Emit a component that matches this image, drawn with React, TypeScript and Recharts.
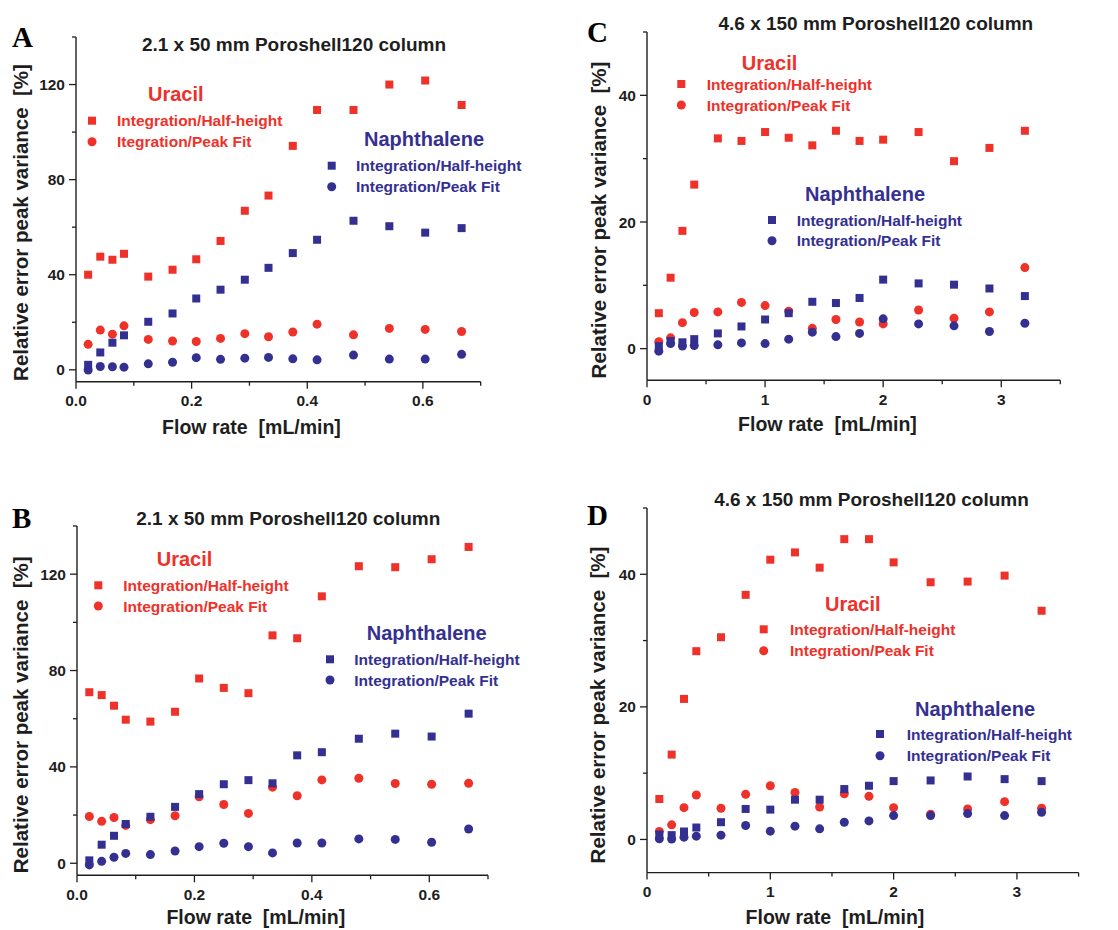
import React from 'react';
import { ScatterChart, Scatter, XAxis, YAxis } from 'recharts';

// ---------- Data ----------
const flowAB = [0.021, 0.042, 0.063, 0.083, 0.125, 0.167, 0.208, 0.25, 0.292, 0.333, 0.375, 0.417, 0.48, 0.542, 0.604, 0.667];
const flowCD = [0.1, 0.2, 0.3, 0.4, 0.6, 0.8, 1.0, 1.2, 1.4, 1.6, 1.8, 2.0, 2.3, 2.6, 2.9, 3.2];

// Panel A (2.1 x 50 mm)
const uracilHH_A = [40.0, 47.6, 46.3, 48.8, 39.2, 42.1, 46.5, 54.2, 66.9, 73.3, 94.2, 109.3, 109.3, 120.0, 121.7, 111.4];
const uracilPF_A = [10.7, 16.7, 15.0, 18.5, 12.8, 12.1, 11.9, 13.2, 15.2, 13.9, 15.9, 19.2, 14.7, 17.4, 17.0, 16.1];
const naphHH_A = [2.1, 7.3, 11.4, 14.5, 20.2, 23.7, 30.0, 33.7, 37.9, 42.9, 49.1, 54.7, 62.7, 60.4, 57.7, 59.6];
const naphPF_A = [-0.1, 1.4, 1.3, 1.1, 2.5, 3.2, 5.1, 4.4, 4.9, 5.2, 4.6, 4.2, 6.2, 4.5, 4.5, 6.5];

// Panel B (2.1 x 50 mm)
const uracilHH_B = [71.0, 69.8, 65.4, 59.6, 58.8, 62.9, 76.7, 72.8, 70.6, 94.6, 93.4, 110.8, 123.3, 122.9, 126.2, 131.3];
const uracilPF_B = [19.4, 17.4, 19.0, 15.7, 18.1, 19.7, 27.6, 24.4, 20.7, 31.6, 28.0, 34.6, 35.3, 33.1, 32.8, 33.2];
const naphHH_B = [1.2, 7.7, 11.4, 16.3, 19.3, 23.4, 28.7, 32.8, 34.5, 33.2, 44.8, 46.1, 51.7, 53.8, 52.6, 62.1];
const naphPF_B = [-0.7, 0.8, 2.5, 4.1, 3.6, 5.1, 6.9, 8.3, 6.9, 4.3, 8.4, 8.4, 10.1, 9.9, 8.7, 14.2];

// Panel C (4.6 x 150 mm)
const uracilHH_C = [5.6, 11.2, 18.6, 25.9, 33.2, 32.8, 34.2, 33.3, 32.1, 34.4, 32.8, 33.0, 34.2, 29.6, 31.7, 34.4];
const uracilPF_C = [1.1, 1.7, 4.1, 5.7, 5.8, 7.3, 6.8, 5.9, 3.2, 4.6, 4.2, 3.9, 6.1, 4.8, 5.8, 12.8];
const naphHH_C = [0.4, 1.2, 1.0, 1.5, 2.4, 3.5, 4.6, 5.6, 7.4, 7.2, 8.0, 10.9, 10.3, 10.1, 9.5, 8.3];
const naphPF_C = [-0.4, 0.8, 0.4, 0.5, 0.6, 0.9, 0.8, 1.5, 2.6, 1.9, 2.4, 4.7, 3.9, 3.6, 2.7, 4.0];

// Panel D (4.6 x 150 mm)
const uracilHH_D = [6.1, 12.8, 21.2, 28.4, 30.5, 36.9, 42.2, 43.3, 41.0, 45.3, 45.3, 41.8, 38.8, 38.9, 39.8, 34.5];
const uracilPF_D = [1.2, 2.2, 4.8, 6.7, 4.7, 6.8, 8.1, 7.1, 4.9, 6.9, 6.5, 4.8, 3.8, 4.6, 5.7, 4.7];
const naphHH_D = [0.75, 0.65, 1.2, 1.8, 2.6, 4.6, 4.5, 6.0, 6.0, 7.6, 8.1, 8.8, 8.9, 9.5, 9.1, 8.8];
const naphPF_D = [0.1, 0.05, 0.35, 0.5, 0.65, 2.1, 1.25, 2.0, 1.6, 2.6, 2.8, 3.6, 3.6, 3.9, 3.6, 4.1];

// Ticks
const xTicksAB = [0, 0.1, 0.2, 0.3, 0.4, 0.5, 0.6, 0.7];
const xMajorAB = [0, 0.2, 0.4, 0.6];
const yTicksAB = [0, 20, 40, 60, 80, 100, 120, 140];
const yMajorAB = [0, 40, 80, 120];
const xTicksCD = [0, 0.5, 1, 1.5, 2, 2.5, 3, 3.5];
const xMajorCD = [0, 1, 2, 3];
const yTicksCD = [0, 10, 20, 30, 40, 50];
const yMajorCD = [0, 20, 40];

// Text
const titleAB = '2.1 x 50 mm Poroshell120 column';
const titleCD = '4.6 x 150 mm Poroshell120 column';
const yLabel = 'Relative error peak variance  [%]';
const xLabel = 'Flow rate  [mL/min]';
const uracilName = 'Uracil';
const naphName = 'Naphthalene';
const hhLabel = 'Integration/Half-height';
const pfLabel = 'Integration/Peak Fit';
const pfLabelTypo = 'Itegration/Peak Fit';

// ---------- Styles ----------
const RED = '#EE3129';
const BLUE = '#343092';
const INK = '#1e1e1e';
const SANS = '"Liberation Sans", Arial, Helvetica, sans-serif';
const SERIF = '"Liberation Serif", "Times New Roman", serif';

const toPts = (xs: number[], ys: number[]) => xs.map((x, i) => ({ x, y: ys[i] }));

const SquareShape = (color: string) => (props: any) => {
  const { cx, cy } = props;
  if (cx == null || cy == null) return <g />;
  return <rect x={cx - 4} y={cy - 4} width={8} height={8} fill={color} />;
};
const CircleShape = (color: string) => (props: any) => {
  const { cx, cy } = props;
  if (cx == null || cy == null) return <g />;
  return <circle cx={cx} cy={cy} r={4.5} fill={color} />;
};

const makeXTick = (major: number[], fmt: (v: number) => string) => (props: any) => {
  const { x, y, payload } = props;
  const v = payload.value;
  const isMajor = major.some((m) => Math.abs(m - v) < 1e-9);
  return (
    <g>
      <line x1={x} x2={x} y1={y} y2={y + (isMajor ? 7 : 4)} stroke={INK} strokeWidth={1.3} />
      {isMajor && (
        <text x={x} y={y + 24.5} textAnchor="middle" fontFamily={SANS} fontWeight="bold" fontSize={15.5} fill={INK}>
          {fmt(v)}
        </text>
      )}
    </g>
  );
};

const makeYTick = (major: number[]) => (props: any) => {
  const { x, y, payload } = props;
  const v = payload.value;
  const isMajor = major.some((m) => Math.abs(m - v) < 1e-9);
  return (
    <g>
      <line x1={x - (isMajor ? 7 : 4)} x2={x} y1={y} y2={y} stroke={INK} strokeWidth={1.3} />
      {isMajor && (
        <text x={x - 11} y={y + 5.6} textAnchor="end" fontFamily={SANS} fontWeight="bold" fontSize={15.5} fill={INK}>
          {String(v)}
        </text>
      )}
    </g>
  );
};

type PanelCfg = {
  left: number; right: number; top: number; bottom: number;
  flow: number[];
  uHH: number[]; uPF: number[]; nHH: number[]; nPF: number[];
  xDomain: [number, number]; yDomain: [number, number];
  xTicks: number[]; xMajor: number[]; yTicks: number[]; yMajor: number[];
  xFmt: (v: number) => string;
};

function Panel({ cfg }: { cfg: PanelCfg }) {
  const YW = 60, XH = 40, MT = 10, MR = 12;
  const width = cfg.right - cfg.left + YW + MR;
  const height = cfg.bottom - cfg.top + MT + XH;
  return (
    <div style={{ position: 'absolute', left: cfg.left - YW, top: cfg.top - MT, width, height }}>
      <ScatterChart width={width} height={height} margin={{ top: MT, right: MR, left: 0, bottom: 0 }}>
        <XAxis
          type="number" dataKey="x" domain={cfg.xDomain} ticks={cfg.xTicks} interval={0}
          tickSize={0} tickMargin={0} height={XH} allowDataOverflow
          axisLine={{ stroke: INK, strokeWidth: 1.4 }} tickLine={false}
          tick={makeXTick(cfg.xMajor, cfg.xFmt)}
        />
        <YAxis
          type="number" dataKey="y" domain={cfg.yDomain} ticks={cfg.yTicks} interval={0}
          tickSize={0} tickMargin={0} width={YW} allowDataOverflow
          axisLine={{ stroke: INK, strokeWidth: 1.4 }} tickLine={false}
          tick={makeYTick(cfg.yMajor)}
        />
        <Scatter data={toPts(cfg.flow, cfg.uHH)} shape={SquareShape(RED)} isAnimationActive={false} />
        <Scatter data={toPts(cfg.flow, cfg.uPF)} shape={CircleShape(RED)} isAnimationActive={false} />
        <Scatter data={toPts(cfg.flow, cfg.nHH)} shape={SquareShape(BLUE)} isAnimationActive={false} />
        <Scatter data={toPts(cfg.flow, cfg.nPF)} shape={CircleShape(BLUE)} isAnimationActive={false} />
      </ScatterChart>
    </div>
  );
}

const fmtAB = (v: number) => v.toFixed(1);
const fmtCD = (v: number) => String(v);

const panels: PanelCfg[] = [
  { left: 76, right: 480.7, top: 37, bottom: 381.7, flow: flowAB, uHH: uracilHH_A, uPF: uracilPF_A, nHH: naphHH_A, nPF: naphPF_A,
    xDomain: [0, 0.7], yDomain: [-5, 140], xTicks: xTicksAB, xMajor: xMajorAB, yTicks: yTicksAB, yMajor: yMajorAB, xFmt: fmtAB },
  { left: 76.7, right: 487.7, top: 525.7, bottom: 875, flow: flowAB, uHH: uracilHH_B, uPF: uracilPF_B, nHH: naphHH_B, nPF: naphPF_B,
    xDomain: [0, 0.7], yDomain: [-5, 140], xTicks: xTicksAB, xMajor: xMajorAB, yTicks: yTicksAB, yMajor: yMajorAB, xFmt: fmtAB },
  { left: 646.7, right: 1060, top: 31.7, bottom: 380, flow: flowCD, uHH: uracilHH_C, uPF: uracilPF_C, nHH: naphHH_C, nPF: naphPF_C,
    xDomain: [0, 3.5], yDomain: [-5, 50], xTicks: xTicksCD, xMajor: xMajorCD, yTicks: yTicksCD, yMajor: yMajorCD, xFmt: fmtCD },
  { left: 646.7, right: 1078.3, top: 507.7, bottom: 872.3, flow: flowCD, uHH: uracilHH_D, uPF: uracilPF_D, nHH: naphHH_D, nPF: naphPF_D,
    xDomain: [0, 3.5], yDomain: [-5, 50], xTicks: xTicksCD, xMajor: xMajorCD, yTicks: yTicksCD, yMajor: yMajorCD, xFmt: fmtCD },
];

type Annot = {
  letter: string; lx: number; ly: number;
  title: string; tx: number; ty: number;
  ylx: number; yly: number; xlx: number; xly: number;
  ux: number; uy: number; uSqX: number; uSqY: number; uTx: number; uCiY: number; pf: string;
  nx: number; ny: number; nSqX: number; nSqY: number; nTx: number; nCiY: number;
};

const annots: Annot[] = [
  { letter: 'A', lx: 12, ly: 46.7, title: titleAB, tx: 294, ty: 51, ylx: 27.7, yly: 222.5, xlx: 251.5, xly: 434,
    ux: 148, uy: 101, uSqX: 92, uSqY: 120.7, uTx: 117, uCiY: 141.7, pf: pfLabelTypo,
    nx: 364, ny: 146, nSqX: 331.7, nSqY: 165.7, nTx: 356, nCiY: 186.7 },
  { letter: 'B', lx: 12, ly: 528, title: titleAB, tx: 288.3, ty: 524.5, ylx: 28, yly: 714.8, xlx: 255.8, xly: 924,
    ux: 156.7, uy: 566, uSqX: 98.3, uSqY: 585.3, uTx: 123.3, uCiY: 606, pf: pfLabel,
    nx: 366.7, ny: 639.5, nSqX: 330, nSqY: 659.3, nTx: 354.3, nCiY: 680 },
  { letter: 'C', lx: 587, ly: 42, title: titleCD, tx: 875.8, ty: 29.8, ylx: 606.4, yly: 220, xlx: 827.5, xly: 430.7,
    ux: 741.7, uy: 69.5, uSqX: 681.3, uSqY: 84, uTx: 706.7, uCiY: 105, pf: pfLabel,
    nx: 805, ny: 201, nSqX: 772, nSqY: 220, nTx: 796.7, nCiY: 240.7 },
  { letter: 'D', lx: 587, ly: 525, title: titleCD, tx: 871.5, ty: 506, ylx: 604.7, yly: 705, xlx: 835, xly: 924,
    ux: 825, uy: 611, uSqX: 763.7, uSqY: 629.3, uTx: 790, uCiY: 650.7, pf: pfLabel,
    nx: 915, ny: 716, nSqX: 880, nSqY: 734, nTx: 906.7, nCiY: 755.7 },
];

function Annotations() {
  const lab = { fontFamily: SANS, fontWeight: 'bold' as const, style: { whiteSpace: 'pre' as const } };
  return (
    <svg width={1118} height={930} style={{ position: 'absolute', left: 0, top: 0, pointerEvents: 'none' }}>
      {annots.map((a) => (
        <g key={a.letter}>
          <text x={a.lx} y={a.ly} fontFamily={SERIF} fontWeight="bold" fontSize={29} fill="#000">{a.letter}</text>
          <text x={a.tx} y={a.ty} textAnchor="middle" {...lab} fontSize={19} fill={INK}>{a.title}</text>
          <text transform={`translate(${a.ylx},${a.yly}) rotate(-90)`} textAnchor="middle" {...lab} fontSize={20.5} fill={INK}>{yLabel}</text>
          <text x={a.xlx} y={a.xly} textAnchor="middle" {...lab} fontSize={19.5} fill={INK}>{xLabel}</text>

          <text x={a.ux} y={a.uy} {...lab} fontSize={20} fill={RED}>{uracilName}</text>
          <rect x={a.uSqX - 4} y={a.uSqY - 4} width={8} height={8} fill={RED} />
          <text x={a.uTx} y={a.uSqY + 5.6} {...lab} fontSize={15.5} fill={RED}>{hhLabel}</text>
          <circle cx={a.uSqX} cy={a.uCiY} r={4.5} fill={RED} />
          <text x={a.uTx} y={a.uCiY + 5.6} {...lab} fontSize={15.5} fill={RED}>{a.pf}</text>

          <text x={a.nx} y={a.ny} {...lab} fontSize={20} fill={BLUE}>{naphName}</text>
          <rect x={a.nSqX - 4} y={a.nSqY - 4} width={8} height={8} fill={BLUE} />
          <text x={a.nTx} y={a.nSqY + 5.6} {...lab} fontSize={15.5} fill={BLUE}>{hhLabel}</text>
          <circle cx={a.nSqX} cy={a.nCiY} r={4.5} fill={BLUE} />
          <text x={a.nTx} y={a.nCiY + 5.6} {...lab} fontSize={15.5} fill={BLUE}>{pfLabel}</text>
        </g>
      ))}
    </svg>
  );
}

export default function App() {
  return (
    <div style={{ position: 'absolute', left: 0, top: 0, width: 1118, height: 930, background: '#fff', overflow: 'hidden' }}>
      {panels.map((p, i) => (
        <Panel key={i} cfg={p} />
      ))}
      <Annotations />
    </div>
  );
}
